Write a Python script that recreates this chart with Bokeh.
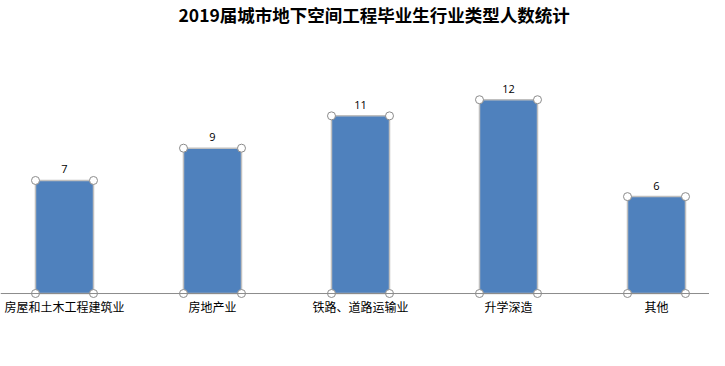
from bokeh.plotting import figure
from bokeh.models import ColumnDataSource, Range1d, Span, FixedTicker
from bokeh.core.properties import value
from bokeh.embed import file_html
from bokeh.resources import INLINE

categories = ["房屋和土木工程建筑业", "房地产业", "铁路、道路运输业", "升学深造", "其他"]
counts = [7, 9, 11, 12, 6]
title_text = "2019届城市地下空间工程毕业生行业类型人数统计"

bar_w = 0.392
xs = list(range(len(categories)))
src = ColumnDataSource(dict(x=xs, top=counts, label=[str(c) for c in counts]))

corner_x = [x - bar_w / 2 for x in xs] + [x + bar_w / 2 for x in xs]
corner_x = corner_x * 2
corner_y = [0] * (2 * len(xs)) + counts + counts
corners = ColumnDataSource(dict(x=corner_x, y=corner_y))

p = figure(width=709, height=350, output_backend="svg", toolbar_location=None,
           x_range=Range1d(-0.4324, 4.3581), y_range=Range1d(-0.37, 16.41),
           min_border_left=0, min_border_right=0, min_border_top=28, min_border_bottom=51)
p.title.text = title_text
p.title.align = "left"
p.title.offset = 178
p.title.vertical_align = "top"
p.title.text_font = "Noto Sans CJK SC"
p.title.text_font_size = "17.5px"
p.title.text_font_style = "bold"
p.title.text_color = "#000000"
p.title.text_line_height = 0.7
p.title.standoff = 0

p.outline_line_color = None
p.background_fill_color = "white"
p.border_fill_color = "white"
p.grid.visible = False
p.yaxis.visible = False

p.vbar(x="x", top="top", bottom=0, width=bar_w, source=src,
       fill_color="#4F81BD", line_color="#BFBFBF", line_width=1.5)

p.add_layout(Span(location=0, dimension="width", line_color="#8C8C8C", line_width=1))

p.scatter(x="x", y="y", source=corners, size=8, marker="circle",
          fill_color="white", line_color="#8C8C8C", line_width=1)

p.text(x="x", y="top", text="label", source=src, text_align="center",
       text_baseline="bottom", y_offset=-7, text_font=value("Open Sans"),
       text_font_size="11px", text_color="#000000")

p.xaxis.ticker = FixedTicker(ticks=xs)
p.xaxis.major_label_overrides = {i: c for i, c in enumerate(categories)}
p.xaxis.axis_line_color = None
p.xaxis.major_tick_line_color = None
p.xaxis.minor_tick_line_color = None
p.xaxis.major_tick_out = 0
p.xaxis.major_tick_in = 0
p.xaxis.major_label_standoff = -2
p.xaxis.major_label_text_font = "Noto Sans CJK SC"
p.xaxis.major_label_text_font_size = "12px"
p.xaxis.major_label_text_color = "#000000"

open("out.html", "w").write(file_html(p, INLINE))
